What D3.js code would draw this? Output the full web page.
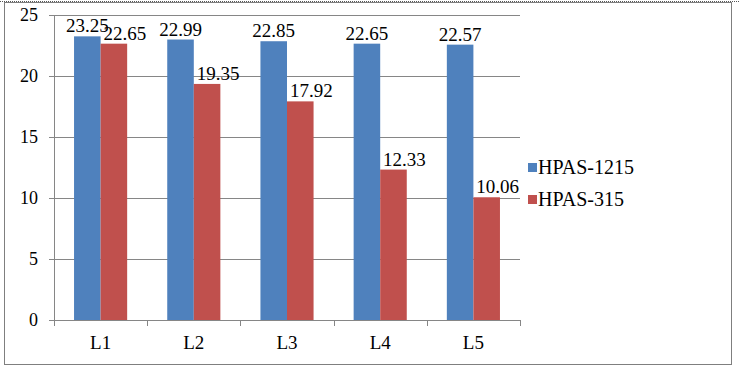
<!DOCTYPE html>
<html>
<head>
<meta charset="utf-8">
<script src="https://cdnjs.cloudflare.com/ajax/libs/d3/7.8.5/d3.min.js"></script>
<style>
  body { margin: 0; background: #fff; }
  svg text { fill: #000; }
</style>
</head>
<body>
<div class="chart"></div>
<script>
// chart data
const categories = ["L1", "L2", "L3", "L4", "L5"]
const seriesNames = ["HPAS-1215", "HPAS-315"]
const hpas1215 = [23.25, 22.99, 22.85, 22.65, 22.57]
const hpas315 = [22.65, 19.35, 17.92, 12.33, 10.06]
const yTicks = [0, 5, 10, 15, 20, 25]

const colors = ["#4F81BD", "#C0504D"]
const font = "'Liberation Serif', 'Times New Roman', serif"

const w = 739
const h = 371
const plot = { left: 54, right: 520, top: 15, bottom: 320 }

const svg = d3.select(".chart")
  .append("svg")
  .attr("width", w)
  .attr("height", h)
  .style("font-family", font)

// outer frame
svg.append("rect")
  .attr("x", 4.5).attr("y", 2.5)
  .attr("width", 727).attr("height", 362)
  .attr("fill", "none")
  .attr("stroke", "#7f7f7f")
  .attr("stroke-width", 1)
svg.append("line")
  .attr("x1", 0).attr("x2", w)
  .attr("y1", 1.5).attr("y2", 1.5)
  .attr("stroke", "#555")
  .attr("stroke-dasharray", "1,1")

const xScale = d3.scaleBand()
  .domain(categories)
  .range([plot.left, plot.right])
  .paddingInner(0.43)
  .paddingOuter(0.215)

const xSub = d3.scaleBand()
  .domain(seriesNames)
  .range([0, xScale.bandwidth()])

const yScale = d3.scaleLinear()
  .domain([0, 25])
  .range([plot.bottom, plot.top])

// gridlines
svg.append("g")
  .selectAll("line")
  .data(yTicks)
  .enter()
  .append("line")
    .attr("x1", plot.left - 5)
    .attr("x2", plot.right)
    .attr("y1", d => Math.round(yScale(d)) + 0.5)
    .attr("y2", d => Math.round(yScale(d)) + 0.5)
    .attr("stroke", "#868686")

// y axis
const yAxis = d3.axisLeft(yScale)
  .tickValues(yTicks)
  .tickSize(0)
  .tickPadding(16)
svg.append("g")
  .attr("transform", "translate(" + plot.left + ",0)")
  .call(yAxis)
  .attr("font-family", null)
  .attr("font-size", null)
  .call(g => g.select(".domain").remove())
  .selectAll("text")
    .style("font-family", font)
    .style("font-size", "18px")

svg.append("line")
  .attr("x1", plot.left + 0.5).attr("x2", plot.left + 0.5)
  .attr("y1", plot.top).attr("y2", plot.bottom)
  .attr("stroke", "#868686")

// x axis ticks between categories
const step = (plot.right - plot.left) / categories.length
svg.append("g")
  .selectAll("line")
  .data(d3.range(categories.length + 1))
  .enter()
  .append("line")
    .attr("x1", i => Math.round(plot.left + i * step) + 0.5)
    .attr("x2", i => Math.round(plot.left + i * step) + 0.5)
    .attr("y1", plot.bottom)
    .attr("y2", plot.bottom + 6)
    .attr("stroke", "#868686")

svg.append("g")
  .selectAll("text")
  .data(categories)
  .enter()
  .append("text")
    .attr("x", d => xScale(d) + xScale.bandwidth() / 2)
    .attr("y", 349)
    .attr("text-anchor", "middle")
    .style("font-size", "19px")
    .text(d => d)

// bars
const series = [hpas1215, hpas315]
series.forEach((vals, si) => {
  const g = svg.append("g")
  g.selectAll("rect")
    .data(vals)
    .enter()
    .append("rect")
      .attr("x", (d, i) => xScale(categories[i]) + xSub(seriesNames[si]))
      .attr("y", d => yScale(d))
      .attr("width", xSub.bandwidth())
      .attr("height", d => plot.bottom - yScale(d))
      .attr("fill", colors[si])

  g.selectAll("text")
    .data(vals)
    .enter()
    .append("text")
      .attr("x", (d, i) => xScale(categories[i]) + xSub(seriesNames[si]) + xSub.bandwidth() / 2 + (si == 1 ? 11 : 0))
      .attr("y", d => yScale(d) - 4)
      .attr("text-anchor", "middle")
      .style("font-size", "19px")
      .text(d => d.toFixed(2))
})

// legend
const legend = svg.append("g")
  .selectAll("g")
  .data(seriesNames)
  .enter()
  .append("g")
    .attr("transform", (d, i) => "translate(528," + (163 + i * 32) + ")")
legend.append("rect")
  .attr("width", 9).attr("height", 9)
  .attr("fill", (d, i) => colors[i])
legend.append("text")
  .attr("x", 10)
  .attr("y", 11)
  .style("font-size", "20px")
  .text(d => d)
</script>
</body>
</html>
